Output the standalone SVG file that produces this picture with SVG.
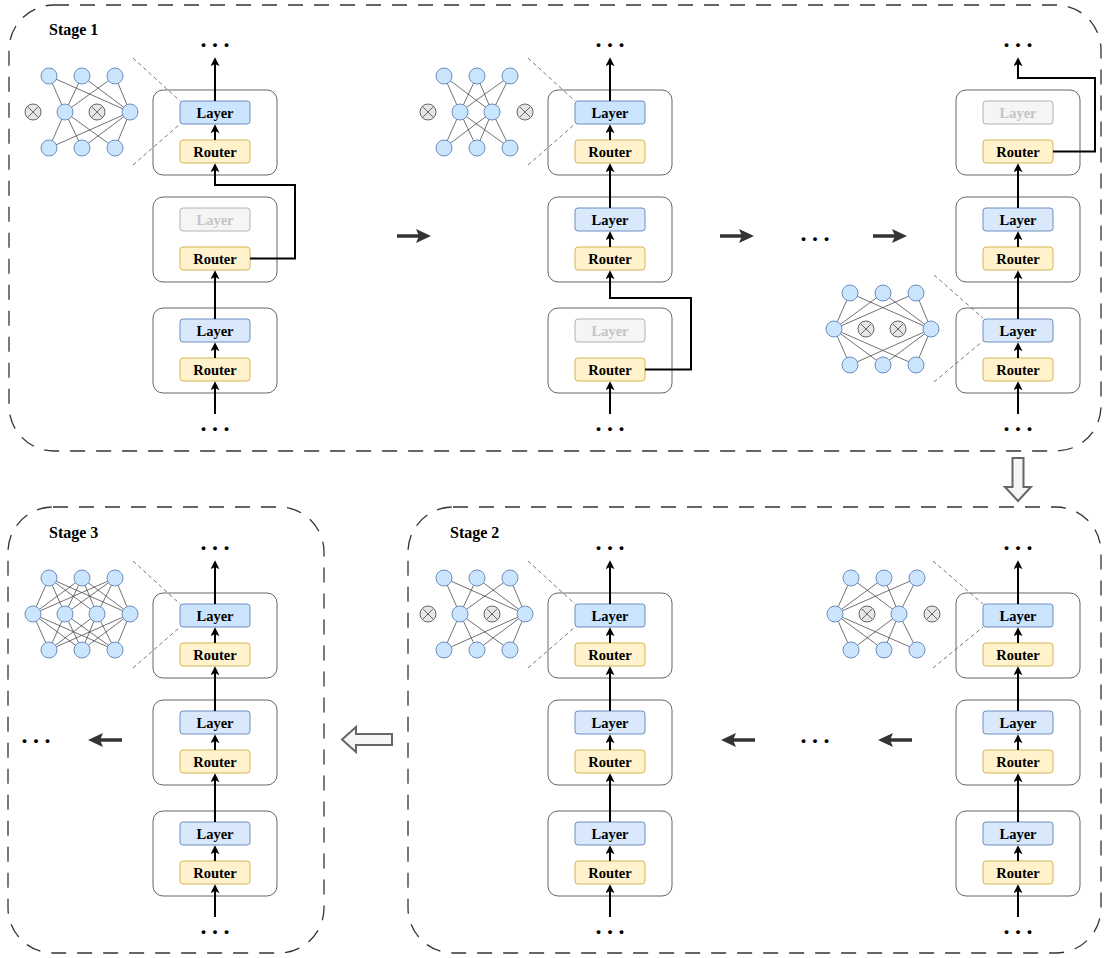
<svg xmlns="http://www.w3.org/2000/svg" width="1104" height="958" viewBox="0 0 1104 958">
<defs>
<marker id="ah" viewBox="0 0 10 10" refX="8" refY="5" markerWidth="9" markerHeight="9" markerUnits="userSpaceOnUse" orient="auto"><path d="M0,0 L10,5 L0,10 L2.5,5 z" fill="#000"/></marker>
</defs>
<style>
.frame{fill:none;stroke:#333;stroke-width:1.3;stroke-dasharray:15 11}
.blk{fill:#fff;stroke:#666;stroke-width:1}
.ly{fill:#dae8fc;stroke:#6c8ebf;stroke-width:1}
.lyh{fill:#cce5ff;stroke:#6c8ebf;stroke-width:1}
.lyg{fill:#f5f5f5;stroke:#b3b3b3;stroke-width:1}
.rt{fill:#fff2cc;stroke:#d6b656;stroke-width:1}
.t{font-family:"Liberation Serif","Times New Roman",serif;font-weight:bold;font-size:14.5px;text-anchor:middle;fill:#000}
.tg{fill:#c4c4c4}
.st{font-family:"Liberation Serif","Times New Roman",serif;font-weight:bold;font-size:16px;fill:#000}
.dots{font-family:"Liberation Serif","Times New Roman",serif;font-weight:bold;font-size:24px;letter-spacing:5.5px;fill:#000}
.c{stroke:#000;stroke-width:2;fill:none;marker-end:url(#ah)}
.nn{fill:#cce5ff;stroke:#6c8ebf;stroke-width:1}
.nx{fill:#e6e6e6;stroke:#666;stroke-width:1}
.xl{stroke:#666;stroke-width:1}
.ne{stroke:#4d4d4d;stroke-width:0.8;fill:none}
.gd{stroke:#555;stroke-width:0.8;stroke-dasharray:4 3;fill:none}
.da{stroke:#333;stroke-width:3.5;fill:none}
.dah{fill:#333}
.ha{fill:#f5f5f5;stroke:#666;stroke-width:2}
</style>

<!-- Frames -->
<g id="frames">
<rect class="frame" x="9" y="5" width="1092" height="446" rx="45" ry="45"/>
<rect class="frame" x="8" y="507" width="316" height="446" rx="45" ry="45"/>
<rect class="frame" x="408" y="507" width="693" height="446" rx="45" ry="45"/>
<text class="st" x="49" y="35">Stage 1</text>
<text class="st" x="49" y="538">Stage 3</text>
<text class="st" x="450" y="538">Stage 2</text>
</g>

<!-- Stage 1, column 1 -->
<g id="s1c1b1"><rect class="blk" x="153" y="90" width="124" height="85" rx="10"/><rect class="lyh" x="180" y="101" width="70" height="23" rx="3"/><text class="t" x="215" y="117.5">Layer</text><rect class="rt" x="180" y="140" width="70" height="23" rx="3"/><text class="t" x="215" y="156.5">Router</text></g>
<g id="s1c1b2"><rect class="blk" x="153" y="197" width="124" height="85" rx="10"/><rect class="lyg" x="180" y="208" width="70" height="23" rx="3"/><text class="t tg" x="215" y="224.5">Layer</text><rect class="rt" x="180" y="247" width="70" height="23" rx="3"/><text class="t" x="215" y="263.5">Router</text></g>
<g id="s1c1b3"><rect class="blk" x="153" y="308" width="124" height="85" rx="10"/><rect class="ly" x="180" y="319" width="70" height="23" rx="3"/><text class="t" x="215" y="335.5">Layer</text><rect class="rt" x="180" y="358" width="70" height="23" rx="3"/><text class="t" x="215" y="374.5">Router</text></g>

<!-- Stage 1, column 2 -->
<g id="s1c2b1"><rect class="blk" x="548" y="90" width="124" height="85" rx="10"/><rect class="lyh" x="575" y="101" width="70" height="23" rx="3"/><text class="t" x="610" y="117.5">Layer</text><rect class="rt" x="575" y="140" width="70" height="23" rx="3"/><text class="t" x="610" y="156.5">Router</text></g>
<g id="s1c2b2"><rect class="blk" x="548" y="197" width="124" height="85" rx="10"/><rect class="ly" x="575" y="208" width="70" height="23" rx="3"/><text class="t" x="610" y="224.5">Layer</text><rect class="rt" x="575" y="247" width="70" height="23" rx="3"/><text class="t" x="610" y="263.5">Router</text></g>
<g id="s1c2b3"><rect class="blk" x="548" y="308" width="124" height="85" rx="10"/><rect class="lyg" x="575" y="319" width="70" height="23" rx="3"/><text class="t tg" x="610" y="335.5">Layer</text><rect class="rt" x="575" y="358" width="70" height="23" rx="3"/><text class="t" x="610" y="374.5">Router</text></g>

<!-- Stage 1, column 3 -->
<g id="s1c3b1"><rect class="blk" x="956" y="90" width="124" height="85" rx="10"/><rect class="lyg" x="983" y="101" width="70" height="23" rx="3"/><text class="t tg" x="1018" y="117.5">Layer</text><rect class="rt" x="983" y="140" width="70" height="23" rx="3"/><text class="t" x="1018" y="156.5">Router</text></g>
<g id="s1c3b2"><rect class="blk" x="956" y="197" width="124" height="85" rx="10"/><rect class="ly" x="983" y="208" width="70" height="23" rx="3"/><text class="t" x="1018" y="224.5">Layer</text><rect class="rt" x="983" y="247" width="70" height="23" rx="3"/><text class="t" x="1018" y="263.5">Router</text></g>
<g id="s1c3b3"><rect class="blk" x="956" y="308" width="124" height="85" rx="10"/><rect class="ly" x="983" y="319" width="70" height="23" rx="3"/><text class="t" x="1018" y="335.5">Layer</text><rect class="rt" x="983" y="358" width="70" height="23" rx="3"/><text class="t" x="1018" y="374.5">Router</text></g>

<!-- Stage 3, column 1 -->
<g id="s3c1b1"><rect class="blk" x="153" y="593" width="124" height="85" rx="10"/><rect class="lyh" x="180" y="604" width="70" height="23" rx="3"/><text class="t" x="215" y="620.5">Layer</text><rect class="rt" x="180" y="643" width="70" height="23" rx="3"/><text class="t" x="215" y="659.5">Router</text></g>
<g id="s3c1b2"><rect class="blk" x="153" y="700" width="124" height="85" rx="10"/><rect class="ly" x="180" y="711" width="70" height="23" rx="3"/><text class="t" x="215" y="727.5">Layer</text><rect class="rt" x="180" y="750" width="70" height="23" rx="3"/><text class="t" x="215" y="766.5">Router</text></g>
<g id="s3c1b3"><rect class="blk" x="153" y="811" width="124" height="85" rx="10"/><rect class="ly" x="180" y="822" width="70" height="23" rx="3"/><text class="t" x="215" y="838.5">Layer</text><rect class="rt" x="180" y="861" width="70" height="23" rx="3"/><text class="t" x="215" y="877.5">Router</text></g>

<!-- Stage 2, column 2 -->
<g id="s2c2b1"><rect class="blk" x="548" y="593" width="124" height="85" rx="10"/><rect class="lyh" x="575" y="604" width="70" height="23" rx="3"/><text class="t" x="610" y="620.5">Layer</text><rect class="rt" x="575" y="643" width="70" height="23" rx="3"/><text class="t" x="610" y="659.5">Router</text></g>
<g id="s2c2b2"><rect class="blk" x="548" y="700" width="124" height="85" rx="10"/><rect class="ly" x="575" y="711" width="70" height="23" rx="3"/><text class="t" x="610" y="727.5">Layer</text><rect class="rt" x="575" y="750" width="70" height="23" rx="3"/><text class="t" x="610" y="766.5">Router</text></g>
<g id="s2c2b3"><rect class="blk" x="548" y="811" width="124" height="85" rx="10"/><rect class="ly" x="575" y="822" width="70" height="23" rx="3"/><text class="t" x="610" y="838.5">Layer</text><rect class="rt" x="575" y="861" width="70" height="23" rx="3"/><text class="t" x="610" y="877.5">Router</text></g>

<!-- Stage 2, column 3 -->
<g id="s2c3b1"><rect class="blk" x="956" y="593" width="124" height="85" rx="10"/><rect class="lyh" x="983" y="604" width="70" height="23" rx="3"/><text class="t" x="1018" y="620.5">Layer</text><rect class="rt" x="983" y="643" width="70" height="23" rx="3"/><text class="t" x="1018" y="659.5">Router</text></g>
<g id="s2c3b2"><rect class="blk" x="956" y="700" width="124" height="85" rx="10"/><rect class="ly" x="983" y="711" width="70" height="23" rx="3"/><text class="t" x="1018" y="727.5">Layer</text><rect class="rt" x="983" y="750" width="70" height="23" rx="3"/><text class="t" x="1018" y="766.5">Router</text></g>
<g id="s2c3b3"><rect class="blk" x="956" y="811" width="124" height="85" rx="10"/><rect class="ly" x="983" y="822" width="70" height="23" rx="3"/><text class="t" x="1018" y="838.5">Layer</text><rect class="rt" x="983" y="861" width="70" height="23" rx="3"/><text class="t" x="1018" y="877.5">Router</text></g>

<!-- Networks -->
<g id="netA">
<path class="gd" d="M133,58 L180,101 M133,165 L180,124"/>
<path class="ne" d="M49,76 L65,112 M49,76 L130,112 M82,76 L65,112 M82,76 L130,112 M115,76 L65,112 M115,76 L130,112 M49,148 L65,112 M49,148 L130,112 M82,148 L65,112 M82,148 L130,112 M115,148 L65,112 M115,148 L130,112"/>
<circle class="nn" cx="49" cy="76" r="8"/><circle class="nn" cx="82" cy="76" r="8"/><circle class="nn" cx="115" cy="76" r="8"/>
<circle class="nn" cx="65" cy="112" r="8"/><circle class="nn" cx="130" cy="112" r="8"/>
<circle class="nn" cx="49" cy="148" r="8"/><circle class="nn" cx="82" cy="148" r="8"/><circle class="nn" cx="115" cy="148" r="8"/>
<circle class="nx" cx="33" cy="112" r="8"/><path class="xl" d="M27.5,106.5 L38.5,117.5 M27.5,117.5 L38.5,106.5"/>
<circle class="nx" cx="97" cy="112" r="8"/><path class="xl" d="M91.5,106.5 L102.5,117.5 M91.5,117.5 L102.5,106.5"/>
</g>

<g id="netB" transform="translate(395,0)">
<path class="gd" d="M133,58 L180,101 M133,165 L180,124"/>
<path class="ne" d="M49,76 L65,112 M49,76 L97,112 M82,76 L65,112 M82,76 L97,112 M115,76 L65,112 M115,76 L97,112 M49,148 L65,112 M49,148 L97,112 M82,148 L65,112 M82,148 L97,112 M115,148 L65,112 M115,148 L97,112"/>
<circle class="nn" cx="49" cy="76" r="8"/><circle class="nn" cx="82" cy="76" r="8"/><circle class="nn" cx="115" cy="76" r="8"/>
<circle class="nn" cx="65" cy="112" r="8"/><circle class="nn" cx="97" cy="112" r="8"/>
<circle class="nn" cx="49" cy="148" r="8"/><circle class="nn" cx="82" cy="148" r="8"/><circle class="nn" cx="115" cy="148" r="8"/>
<circle class="nx" cx="33" cy="112" r="8"/><path class="xl" d="M27.5,106.5 L38.5,117.5 M27.5,117.5 L38.5,106.5"/>
<circle class="nx" cx="130" cy="112" r="8"/><path class="xl" d="M124.5,106.5 L135.5,117.5 M124.5,117.5 L135.5,106.5"/>
</g>

<g id="netC" transform="translate(801,217)">
<path class="gd" d="M133,58 L182,101 M133,165 L182,124"/>
<path class="ne" d="M49,76 L33,112 M49,76 L130,112 M82,76 L33,112 M82,76 L130,112 M115,76 L33,112 M115,76 L130,112 M49,148 L33,112 M49,148 L130,112 M82,148 L33,112 M82,148 L130,112 M115,148 L33,112 M115,148 L130,112"/>
<circle class="nn" cx="49" cy="76" r="8"/><circle class="nn" cx="82" cy="76" r="8"/><circle class="nn" cx="115" cy="76" r="8"/>
<circle class="nn" cx="33" cy="112" r="8"/><circle class="nn" cx="130" cy="112" r="8"/>
<circle class="nn" cx="49" cy="148" r="8"/><circle class="nn" cx="82" cy="148" r="8"/><circle class="nn" cx="115" cy="148" r="8"/>
<circle class="nx" cx="65" cy="112" r="8"/><path class="xl" d="M59.5,106.5 L70.5,117.5 M59.5,117.5 L70.5,106.5"/>
<circle class="nx" cx="97" cy="112" r="8"/><path class="xl" d="M91.5,106.5 L102.5,117.5 M91.5,117.5 L102.5,106.5"/>
</g>

<g id="netD" transform="translate(0,502)">
<path class="gd" d="M133,59 L180,102 M133,166 L180,125"/>
<path class="ne" d="M49,76 L33,112 M49,76 L65,112 M49,76 L97,112 M49,76 L130,112 M82,76 L33,112 M82,76 L65,112 M82,76 L97,112 M82,76 L130,112 M115,76 L33,112 M115,76 L65,112 M115,76 L97,112 M115,76 L130,112 M49,148 L33,112 M49,148 L65,112 M49,148 L97,112 M49,148 L130,112 M82,148 L33,112 M82,148 L65,112 M82,148 L97,112 M82,148 L130,112 M115,148 L33,112 M115,148 L65,112 M115,148 L97,112 M115,148 L130,112"/>
<circle class="nn" cx="49" cy="76" r="8"/><circle class="nn" cx="82" cy="76" r="8"/><circle class="nn" cx="115" cy="76" r="8"/>
<circle class="nn" cx="33" cy="112" r="8"/><circle class="nn" cx="65" cy="112" r="8"/><circle class="nn" cx="97" cy="112" r="8"/><circle class="nn" cx="130" cy="112" r="8"/>
<circle class="nn" cx="49" cy="148" r="8"/><circle class="nn" cx="82" cy="148" r="8"/><circle class="nn" cx="115" cy="148" r="8"/>
</g>

<g id="netE" transform="translate(395,502)">
<path class="gd" d="M133,59 L180,102 M133,166 L180,125"/>
<path class="ne" d="M49,76 L65,112 M49,76 L130,112 M82,76 L65,112 M82,76 L130,112 M115,76 L65,112 M115,76 L130,112 M49,148 L65,112 M49,148 L130,112 M82,148 L65,112 M82,148 L130,112 M115,148 L65,112 M115,148 L130,112"/>
<circle class="nn" cx="49" cy="76" r="8"/><circle class="nn" cx="82" cy="76" r="8"/><circle class="nn" cx="115" cy="76" r="8"/>
<circle class="nn" cx="65" cy="112" r="8"/><circle class="nn" cx="130" cy="112" r="8"/>
<circle class="nn" cx="49" cy="148" r="8"/><circle class="nn" cx="82" cy="148" r="8"/><circle class="nn" cx="115" cy="148" r="8"/>
<circle class="nx" cx="33" cy="112" r="8"/><path class="xl" d="M27.5,106.5 L38.5,117.5 M27.5,117.5 L38.5,106.5"/>
<circle class="nx" cx="97" cy="112" r="8"/><path class="xl" d="M91.5,106.5 L102.5,117.5 M91.5,117.5 L102.5,106.5"/>
</g>

<g id="netF" transform="translate(802,502)">
<path class="gd" d="M131,59 L181,102 M131,166 L181,125"/>
<path class="ne" d="M49,76 L33,112 M49,76 L97,112 M82,76 L33,112 M82,76 L97,112 M115,76 L33,112 M115,76 L97,112 M49,148 L33,112 M49,148 L97,112 M82,148 L33,112 M82,148 L97,112 M115,148 L33,112 M115,148 L97,112"/>
<circle class="nn" cx="49" cy="76" r="8"/><circle class="nn" cx="82" cy="76" r="8"/><circle class="nn" cx="115" cy="76" r="8"/>
<circle class="nn" cx="33" cy="112" r="8"/><circle class="nn" cx="97" cy="112" r="8"/>
<circle class="nn" cx="49" cy="148" r="8"/><circle class="nn" cx="82" cy="148" r="8"/><circle class="nn" cx="115" cy="148" r="8"/>
<circle class="nx" cx="65" cy="112" r="8"/><path class="xl" d="M59.5,106.5 L70.5,117.5 M59.5,117.5 L70.5,106.5"/>
<circle class="nx" cx="130" cy="112" r="8"/><path class="xl" d="M124.5,106.5 L135.5,117.5 M124.5,117.5 L135.5,106.5"/>
</g>

<!-- Ellipses -->
<g id="ellipses">
<text class="dots" x="200.5" y="47">...</text>
<text class="dots" x="595.5" y="47">...</text>
<text class="dots" x="1003.5" y="47">...</text>
<text class="dots" x="200.5" y="431">...</text>
<text class="dots" x="595.5" y="431">...</text>
<text class="dots" x="1003.5" y="431">...</text>
<text class="dots" x="800.5" y="241">...</text>
<text class="dots" x="200.5" y="550">...</text>
<text class="dots" x="595.5" y="550">...</text>
<text class="dots" x="1003.5" y="550">...</text>
<text class="dots" x="200.5" y="934">...</text>
<text class="dots" x="595.5" y="934">...</text>
<text class="dots" x="1003.5" y="934">...</text>
<text class="dots" x="800.5" y="743">...</text>
<text class="dots" x="21.5" y="743">...</text>
</g>

<!-- Connectors -->
<g id="connectors">
<path class="c" d="M215,414 V383"/>
<path class="c" d="M215,358 V344"/>
<path class="c" d="M215,319 V272"/>
<path class="c" d="M250,258.5 H295 V185 H215 V165"/>
<path class="c" d="M215,140 V126"/>
<path class="c" d="M215,101 V59"/>

<path class="c" d="M610,414 V383"/>
<path class="c" d="M645,369.5 H691 V298 H610 V272"/>
<path class="c" d="M610,247 V233"/>
<path class="c" d="M610,208 V165"/>
<path class="c" d="M610,140 V126"/>
<path class="c" d="M610,101 V59"/>

<path class="c" d="M1018,414 V383"/>
<path class="c" d="M1018,358 V344"/>
<path class="c" d="M1018,319 V272"/>
<path class="c" d="M1018,247 V233"/>
<path class="c" d="M1018,208 V165"/>
<path class="c" d="M1053,151.5 H1095 V78 H1018 V59"/>

<path class="c" d="M215,917 V886"/><path class="c" d="M215,861 V847"/><path class="c" d="M215,822 V775"/><path class="c" d="M215,750 V736"/><path class="c" d="M215,711 V668"/><path class="c" d="M215,643 V629"/><path class="c" d="M215,604 V562"/>
<path class="c" d="M610,917 V886"/><path class="c" d="M610,861 V847"/><path class="c" d="M610,822 V775"/><path class="c" d="M610,750 V736"/><path class="c" d="M610,711 V668"/><path class="c" d="M610,643 V629"/><path class="c" d="M610,604 V562"/>
<path class="c" d="M1018,917 V886"/><path class="c" d="M1018,861 V847"/><path class="c" d="M1018,822 V775"/><path class="c" d="M1018,750 V736"/><path class="c" d="M1018,711 V668"/><path class="c" d="M1018,643 V629"/><path class="c" d="M1018,604 V562"/>

<!-- dark flow arrows -->
<path class="da" d="M397,236 H419"/><path class="dah" d="M416,229 L431,236 L416,243 L419,236 Z"/>
<path class="da" d="M720,236 H742"/><path class="dah" d="M739,229 L754,236 L739,243 L742,236 Z"/>
<path class="da" d="M873,236 H895"/><path class="dah" d="M892,229 L907,236 L892,243 L895,236 Z"/>
<path class="da" d="M755,740 H733"/><path class="dah" d="M736,733 L721,740 L736,747 L733,740 Z"/>
<path class="da" d="M912,740 H890"/><path class="dah" d="M893,733 L878,740 L893,747 L890,740 Z"/>
<path class="da" d="M122,740 H100"/><path class="dah" d="M103,733 L88,740 L103,747 L100,740 Z"/>

<!-- hollow stage arrows -->
<path class="ha" d="M1012.5,458 H1023.5 V487 H1031 L1018,501 L1005,487 H1012.5 Z"/>
<path class="ha" d="M392,734 V745 H356 V752 L342,739.5 L356,727 V734 Z"/>
</g>
</svg>
